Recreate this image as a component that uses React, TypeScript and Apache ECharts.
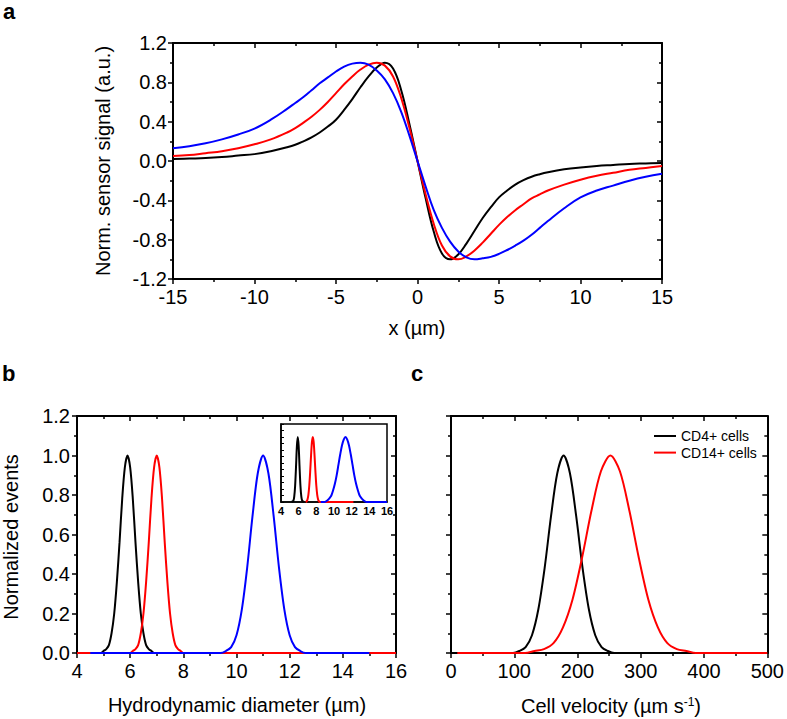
import { useEffect, useRef } from 'react';
import * as echarts from 'echarts';

const FONT = "'Liberation Sans', Arial, Helvetica, sans-serif";

// ---------- Panel a: sensor signal ----------
const aX = [-15, -14, -13, -12, -11, -10, -9,
  -8, -7.5, -7, -6.5, -6, -5.5, -5, -4.5, -4, -3.5, -3, -2.5, -2, -1.5, -1, -0.5,
  0, 0.5, 1, 1.5, 2, 2.5, 3, 3.5, 4, 4.5, 5, 5.5, 6, 6.5, 7, 7.5, 8,
  9, 10, 11, 12, 13, 14, 15];
const aBlack = [0.02, 0.025, 0.03, 0.04, 0.055, 0.07, 0.10,
  0.14, 0.165, 0.20, 0.24, 0.29, 0.35, 0.42, 0.52, 0.63, 0.75, 0.86, 0.95, 1.0, 0.94, 0.72, 0.38,
  0, -0.38, -0.72, -0.94, -1.0, -0.95, -0.84, -0.71, -0.58, -0.47, -0.37, -0.30, -0.24, -0.195, -0.16, -0.135, -0.115,
  -0.085, -0.065, -0.05, -0.04, -0.03, -0.025, -0.02];
const aRed = [0.05, 0.06, 0.08, 0.10, 0.13, 0.17, 0.22,
  0.29, 0.335, 0.39, 0.45, 0.52, 0.60, 0.69, 0.78, 0.86, 0.93, 0.98, 1.0, 0.97, 0.86, 0.64, 0.34,
  0, -0.34, -0.64, -0.86, -0.97, -1.0, -0.97, -0.91, -0.83, -0.74, -0.65, -0.57, -0.50, -0.44, -0.38, -0.34, -0.30,
  -0.24, -0.19, -0.15, -0.12, -0.09, -0.07, -0.05];
const aBlue = [0.13, 0.15, 0.18, 0.22, 0.27, 0.33, 0.42,
  0.53, 0.59, 0.65, 0.72, 0.79, 0.85, 0.91, 0.96, 0.99, 1.0, 0.98, 0.92, 0.83, 0.69, 0.50, 0.26,
  0, -0.26, -0.50, -0.68, -0.82, -0.92, -0.98, -1.0, -0.99, -0.975, -0.945, -0.905, -0.86, -0.81, -0.75, -0.68, -0.61,
  -0.48, -0.37, -0.30, -0.25, -0.20, -0.16, -0.13];

// ---------- Panel b: hydrodynamic diameter ----------
const bBlackX = [4.6, 4.9, 5.0, 5.1, 5.2, 5.3, 5.4, 5.5, 5.6, 5.7, 5.8, 5.9, 6.0, 6.1, 6.2, 6.3, 6.4, 6.5, 6.6, 6.7, 6.8, 6.9, 7.2];
const bBlackY = [0, 0, 0.01, 0.02, 0.04, 0.10, 0.20, 0.36, 0.56, 0.78, 0.94, 1.0, 0.94, 0.78, 0.56, 0.36, 0.20, 0.10, 0.04, 0.02, 0.01, 0, 0];
const bRedX = [4, 6.0, 6.1, 6.2, 6.3, 6.4, 6.5, 6.6, 6.7, 6.8, 6.9, 7.0, 7.1, 7.2, 7.3, 7.4, 7.5, 7.6, 7.7, 7.8, 7.9, 8.0, 16];
const bRedY = [0, 0, 0.01, 0.02, 0.04, 0.10, 0.20, 0.36, 0.56, 0.78, 0.94, 1.0, 0.94, 0.78, 0.56, 0.36, 0.20, 0.10, 0.04, 0.02, 0.01, 0, 0];
const bBlueX = [4.5, 9.2, 9.4, 9.6, 9.8, 10.0, 10.2, 10.4, 10.6, 10.8, 11.0, 11.2, 11.4, 11.6, 11.8, 12.0, 12.2, 12.4, 12.6, 12.8, 15];
const bBlueY = [0, 0, 0, 0.01, 0.03, 0.09, 0.22, 0.43, 0.69, 0.91, 1.0, 0.91, 0.69, 0.43, 0.22, 0.09, 0.03, 0.01, 0, 0, 0];

// ---------- Inset ----------
const iBlackX = [5.2, 5.4, 5.5, 5.6, 5.7, 5.8, 5.9, 6.0, 6.1, 6.2, 6.3, 6.4, 6.6];
const iBlackY = [0, 0.02, 0.085, 0.25, 0.54, 0.86, 1.0, 0.86, 0.54, 0.25, 0.085, 0.02, 0];
const iRedX = [6.8, 6.9, 7.0, 7.1, 7.2, 7.3, 7.4, 7.5, 7.6, 7.7, 7.8, 7.9, 8.0, 8.1, 8.2, 8.3, 8.4, 12.2];
const iRedY = [0, 0.01, 0.04, 0.11, 0.25, 0.46, 0.71, 0.92, 1.0, 0.92, 0.71, 0.46, 0.25, 0.11, 0.04, 0.01, 0, 0];
const iBlueX = [8.5, 8.9, 9.1, 9.3, 9.5, 9.7, 9.9, 10.1, 10.3, 10.5, 10.7, 10.9, 11.1, 11.3, 11.5, 11.7, 11.9, 12.1, 12.3, 12.5, 12.7, 12.9, 13.1, 13.3, 13.5, 13.7, 16];
const iBlueY = [0, 0, 0.01, 0.03, 0.06, 0.10, 0.18, 0.28, 0.41, 0.57, 0.73, 0.87, 0.96, 1.0, 0.96, 0.87, 0.73, 0.57, 0.41, 0.28, 0.18, 0.10, 0.06, 0.03, 0.01, 0, 0];

// ---------- Panel c: cell velocity ----------
const cBlackX = [10, 88, 98, 108, 118, 128, 138, 148, 158, 168, 178, 188, 198, 208, 218, 228, 238, 248, 258, 268, 500];
const cBlackY = [0, 0, 0, 0.01, 0.03, 0.09, 0.22, 0.43, 0.69, 0.91, 1.0, 0.91, 0.69, 0.43, 0.22, 0.09, 0.03, 0.01, 0, 0, 0];
const cRedX = [10, 107, 117, 132, 147, 162, 177, 192, 207, 222, 237, 252, 267, 282, 297, 312, 327, 342, 357, 372, 387, 402, 500];
const cRedY = [0, 0, 0, 0.01, 0.02, 0.05, 0.13, 0.27, 0.48, 0.72, 0.92, 1.0, 0.92, 0.72, 0.48, 0.27, 0.13, 0.05, 0.02, 0.01, 0, 0, 0];
const cNames = ['CD4+ cells', 'CD14+ cells'];

const zip = (xs: number[], ys: number[]) => xs.map((x, i) => [x, ys[i]]);

const BLACK = '#000000';
const RED = '#ff0000';
const BLUE = '#0000ff';

function xAx(grid: number, min: number, max: number, interval: number, top: boolean, label?: any) {
  return {
    type: 'value', gridIndex: grid, min, max, interval, position: top ? 'top' : 'bottom',
    axisLine: { show: true, onZero: false, lineStyle: { color: '#000', width: 2 } },
    axisTick: { show: true, inside: top, length: 5, lineStyle: { color: '#000', width: 1.5 } },
    minorTick: { show: true, splitNumber: 2, length: 3, lineStyle: { color: '#000', width: 1.5 } },
    splitLine: { show: false },
    minorSplitLine: { show: false },
    axisLabel: label
      ? { show: true, color: '#000', fontFamily: FONT, fontSize: 20, margin: 8, ...label }
      : { show: false },
  };
}

function yAx(grid: number, min: number, max: number, interval: number, right: boolean, label?: any) {
  return {
    type: 'value', gridIndex: grid, min, max, interval, position: right ? 'right' : 'left',
    axisLine: { show: true, onZero: false, lineStyle: { color: '#000', width: 2 } },
    axisTick: { show: true, inside: right, length: 5, lineStyle: { color: '#000', width: 1.5 } },
    minorTick: { show: true, splitNumber: 2, length: 3, lineStyle: { color: '#000', width: 1.5 } },
    splitLine: { show: false },
    minorSplitLine: { show: false },
    axisLabel: label
      ? { show: true, color: '#000', fontFamily: FONT, fontSize: 20, margin: 7, ...label }
      : { show: false },
  };
}

function line(name: string, xi: number, yi: number, data: number[][], color: string, smooth: number) {
  return {
    type: 'line', name, xAxisIndex: xi, yAxisIndex: yi, data,
    showSymbol: false, symbol: 'none', smooth,
    lineStyle: { color, width: 2 }, itemStyle: { color },
    emphasis: { disabled: true }, silent: true, z: 3,
  };
}

const fmt1 = (v: number) => v.toFixed(1);
const fmt0 = (v: number) => String(Math.round(v));

const title = (text: string, x: number, y: number, rot = 0, extra: any = {}) => ({
  type: 'text', x, y, rotation: rot, silent: true,
  style: { text, fontSize: 20, fontFamily: FONT, fill: '#000', align: 'center', verticalAlign: 'middle', ...extra },
});

const letter = (text: string, x: number, y: number) => ({
  type: 'text', x, y, silent: true,
  style: { text, fontSize: 22, lineHeight: 22, fontWeight: 'bold', fontFamily: FONT, fill: '#000', align: 'left', verticalAlign: 'middle' },
});

const option: any = {
  animation: false,
  backgroundColor: '#ffffff',
  grid: [
    { left: 173, top: 43, width: 489, height: 236 },
    { left: 77, top: 416, width: 319, height: 237 },
    { left: 451, top: 416, width: 320, height: 237 },
    { left: 281, top: 424, width: 106, height: 78, show: true, borderColor: '#000', borderWidth: 1.5, backgroundColor: '#fff', z: 5 },
  ],
  xAxis: [
    xAx(0, -15, 15, 5, false, { formatter: fmt0 }),
    xAx(0, -15, 15, 5, true),
    xAx(1, 4, 16, 2, false, { formatter: fmt0 }),
    xAx(1, 4, 16, 2, true),
    xAx(2, 0, 500, 100, false, { formatter: fmt0 }),
    xAx(2, 0, 500, 100, true),
    {
      type: 'value', gridIndex: 3, min: 4, max: 16, interval: 2, z: 6,
      axisLine: { show: true, onZero: false, lineStyle: { color: '#000', width: 1.5 } },
      axisTick: { show: false }, minorTick: { show: false },
      splitLine: { show: false },
      axisLabel: { show: true, color: '#000', fontFamily: FONT, fontSize: 11, fontWeight: 'bold', margin: 3, formatter: fmt0 },
    },
  ],
  yAxis: [
    yAx(0, -1.2, 1.2, 0.4, false, { formatter: fmt1, margin: 6 }),
    yAx(0, -1.2, 1.2, 0.4, true),
    yAx(1, 0, 1.2, 0.2, false, { formatter: fmt1 }),
    yAx(1, 0, 1.2, 0.2, true),
    yAx(2, 0, 1.2, 0.2, false),
    yAx(2, 0, 1.2, 0.2, true),
    {
      type: 'value', gridIndex: 3, min: 0, max: 1.2, interval: 0.1, z: 6,
      axisLine: { show: true, onZero: false, lineStyle: { color: '#000', width: 1.5 } },
      axisTick: { show: true, inside: true, length: 3, lineStyle: { color: '#000', width: 1 } },
      minorTick: { show: false },
      splitLine: { show: false },
      axisLabel: { show: false },
    },
  ],
  legend: {
    data: cNames,
    orient: 'vertical',
    left: 654,
    top: 429,
    icon: 'rect',
    itemWidth: 22,
    itemHeight: 2,
    itemGap: 2.6,
    padding: 0,
    textStyle: { fontSize: 14, fontFamily: FONT, color: '#000', lineHeight: 14 },
    selectedMode: false,
  },
  series: [
    line('a-black', 0, 0, zip(aX, aBlack), BLACK, 0.4),
    line('a-red', 0, 0, zip(aX, aRed), RED, 0.4),
    line('a-blue', 0, 0, zip(aX, aBlue), BLUE, 0.4),
    line('b-black', 2, 2, zip(bBlackX, bBlackY), BLACK, 0.3),
    line('b-red', 2, 2, zip(bRedX, bRedY), RED, 0.3),
    line('b-blue', 2, 2, zip(bBlueX, bBlueY), BLUE, 0.3),
    line(cNames[0], 4, 4, zip(cBlackX, cBlackY), BLACK, 0.3),
    line(cNames[1], 4, 4, zip(cRedX, cRedY), RED, 0.3),
    { ...line('i-black', 6, 6, zip(iBlackX, iBlackY), BLACK, 0.3), z: 7 },
    { ...line('i-red', 6, 6, zip(iRedX, iRedY), RED, 0.3), z: 7 },
    { ...line('i-blue', 6, 6, zip(iBlueX, iBlueY), BLUE, 0.3), z: 7 },
  ],
  graphic: [
    letter('a', 3, 11),
    letter('b', 2, 373),
    letter('c', 411, 373),
    title('Norm. sensor signal (a.u.)', 103, 161, Math.PI / 2),
    title('x (µm)', 417, 328),
    title('Normalized events', 11, 537, Math.PI / 2),
    title('Hydrodynamic diameter (µm)', 237, 705),
    title('Cell velocity (µm s{sup|-1})', 611, 706, 0, {
      rich: { sup: { fontSize: 12, fontFamily: FONT, fill: '#000', verticalAlign: 'top', lineHeight: 20 } },
    }),
  ],
};

export default function App() {
  const ref = useRef<HTMLDivElement>(null);
  useEffect(() => {
    const chart = echarts.init(ref.current!, null, { renderer: 'svg' });
    chart.setOption(option);
    return () => chart.dispose();
  }, []);
  return (
    <div
      ref={ref}
      style={{ position: 'absolute', left: 0, top: 0, width: 787, height: 719, background: '#fff' }}
    />
  );
}
